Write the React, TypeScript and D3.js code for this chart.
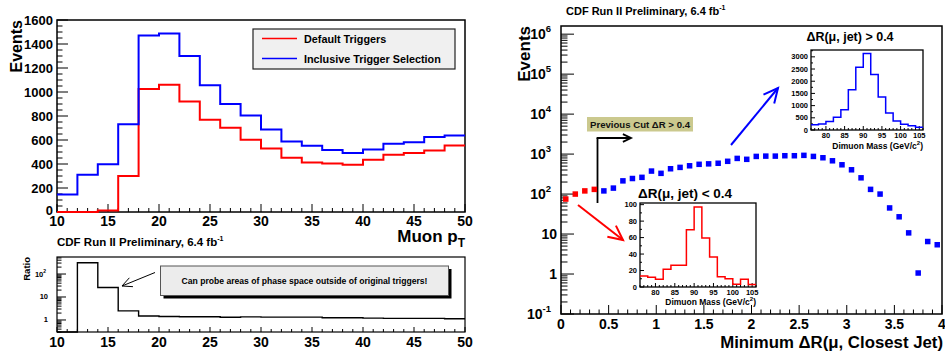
import React from 'react';
import * as d3 from 'd3';

// ---- data ----
// muon pT, 2 GeV bins (low edges)
const ptLowEdges = [10, 12, 14, 16, 18, 20, 22, 24, 26, 28, 30, 32, 34, 36, 38, 40, 42, 44, 46, 48];
const defaultTriggers = [0, 0, 12, 300, 1024, 1060, 921, 768, 702, 602, 530, 452, 413, 405, 394, 435, 477, 491, 513, 555];
const inclusiveTriggers = [145, 310, 397, 732, 1470, 1487, 1301, 1057, 899, 804, 688, 588, 552, 516, 491, 521, 568, 582, 624, 638];
const triggerRatio = [0, 310, 26, 2.5, 1.49, 1.42, 1.39, 1.39, 1.31, 1.36, 1.33, 1.33, 1.33, 1.26, 1.26, 1.2, 1.18, 1.18, 1.18, 1.14];

// minimum dR(mu, closest jet), 0.1 bins (centres)
const drCentres = [
  0.05, 0.15, 0.25, 0.35, 0.45, 0.55, 0.65, 0.75, 0.85, 0.95,
  1.05, 1.15, 1.25, 1.35, 1.45, 1.55, 1.65, 1.75, 1.85, 1.95,
  2.05, 2.15, 2.25, 2.35, 2.45, 2.55, 2.65, 2.75, 2.85, 2.95,
  3.05, 3.15, 3.25, 3.35, 3.45, 3.55, 3.65, 3.75, 3.85, 3.95,
];
const drEvents = [
  75, 100, 120, 131, 120, 141, 214, 245, 262, 376,
  330, 430, 465, 510, 555, 570, 590, 660, 780, 740,
  875, 890, 890, 910, 910, 930, 875, 810, 680, 540,
  405, 255, 131, 100, 45, 27, 10.7, 1.06, 6.5, 5.4,
];
const drCut = 0.4;

// dimuon mass insets, 2 GeV bins (low edges)
const massLowEdges = [76, 78, 80, 82, 84, 86, 88, 90, 92, 94, 96, 98, 100, 102, 104];
const massCloseJet = [13.4, 11.7, 9.3, 21.5, 26.3, 26.3, 69.6, 97, 59.5, 36.4, 12.4, 10, 3.2, 9.3, 3];
const massFarJet = [220, 250, 350, 520, 830, 1650, 2570, 3140, 2280, 1350, 700, 370, 240, 170, 110];

const ptTicks = [10, 15, 20, 25, 30, 35, 40, 45, 50];
const eventTicks = [0, 200, 400, 600, 800, 1000, 1200, 1400, 1600];
const drTicks = [0, 0.5, 1, 1.5, 2, 2.5, 3, 3.5, 4];
const drTickLabels = ['0', '0.5', '1', '1.5', '2', '2.5', '3', '3.5', '4'];
const massTicks = [80, 85, 90, 95, 100, 105];
const closeJetTicks = [0, 20, 40, 60, 80, 100];
const farJetTicks = [0, 500, 1000, 1500, 2000, 2500, 3000];

const FONT = '"Liberation Sans", Arial, Helvetica, sans-serif';
const RED = '#ff0000';
const BLUE = '#0000ff';

type Scale = (v: number) => number;

// histogram outline from bin low edges
function histPath(edges: number[], width: number, values: number[], x: Scale, y: Scale, floor: number) {
  const pts: [number, number][] = [];
  edges.forEach((e, i) => {
    const yy = values[i] > 0 ? y(values[i]) : floor;
    pts.push([x(e), yy]);
    pts.push([x(e + width), yy]);
  });
  return d3.line()(pts) || '';
}

function logMinor(lo: number, hi: number) {
  const out: number[] = [];
  for (let k = Math.floor(Math.log10(lo)); k <= Math.ceil(Math.log10(hi)); k++) {
    for (let m = 1; m < 10; m++) {
      const v = m * Math.pow(10, k);
      if (v >= lo && v <= hi) out.push(v);
    }
  }
  return out;
}

const Arrow = ({ x1, y1, x2, y2, color, w, head }: any) => {
  const a = Math.atan2(y2 - y1, x2 - x1);
  const s = 0.45;
  const b1: [number, number] = [x2 - head * Math.cos(a - s), y2 - head * Math.sin(a - s)];
  const b2: [number, number] = [x2 - head * Math.cos(a + s), y2 - head * Math.sin(a + s)];
  return (
    <g stroke={color} strokeWidth={w} fill="none">
      <line x1={x1} y1={y1} x2={x2} y2={y2} />
      <path d={`M${b1[0]},${b1[1]}L${x2},${y2}L${b2[0]},${b2[1]}`} />
    </g>
  );
};

export default function App() {
  // ---------- left: muon pT ----------
  const xPt = d3.scaleLinear().domain([10, 50]).range([57, 465]);
  const yEv = d3.scaleLinear().domain([0, 1600]).range([212, 20]);
  const yRatio = d3.scaleLog().domain([0.3, 550]).range([332, 257]);

  // ---------- right: dR ----------
  const xDr = d3.scaleLinear().domain([0, 4]).range([561, 942]);
  const yDr = d3.scaleLog().domain([0.1, 1.6e6]).range([314, 26]);

  // ---------- insets ----------
  const xIn1 = d3.scaleLinear().domain([76, 106]).range([640, 756]);
  const yIn1 = d3.scaleLinear().domain([0, 102]).range([287, 203]);
  const xIn2 = d3.scaleLinear().domain([76, 106]).range([811, 923]);
  const yIn2 = d3.scaleLinear().domain([0, 3280]).range([130, 50]);

  const tick = (k: string, x1: number, y1: number, x2: number, y2: number) => (
    <line key={k} x1={x1} y1={y1} x2={x2} y2={y2} stroke="#000" strokeWidth={1} />
  );

  const insetAxes = (xs: any, ys: any, yTicks: number[], yMinorStep: number, fs: number) => {
    const [x0, x1] = xs.range();
    const [yb, yt] = ys.range();
    return (
      <g>
        <rect x={x0} y={yt} width={x1 - x0} height={yb - yt} fill="#fff" stroke="#000" strokeWidth={1.3} />
        {d3.range(76, 107, 1).map((v) => tick('xm' + v, xs(v), yb, xs(v), yb - (v % 5 === 0 ? 4 : 2)))}
        {d3.range(0, ys.domain()[1], yMinorStep).map((v) =>
          tick('ym' + v, x0, ys(v), x0 + (yTicks.includes(v) ? 4 : 2), ys(v)))}
        {massTicks.map((v) => (
          <text key={'xl' + v} x={xs(v)} y={yb + 5} fontSize={fs} textAnchor="middle" dominantBaseline="central">{v}</text>
        ))}
        {yTicks.map((v) => (
          <text key={'yl' + v} x={x0 - 3} y={ys(v)} fontSize={fs} textAnchor="end" dominantBaseline="central">{v}</text>
        ))}
      </g>
    );
  };

  const redPts = drCentres.map((c, i) => ({ c, v: drEvents[i] })).filter((d) => d.c < drCut);
  const bluePts = drCentres.map((c, i) => ({ c, v: drEvents[i] })).filter((d) => d.c > drCut);
  const ms = 5.5;

  return (
    <svg width={945} height={356} style={{ position: 'absolute', left: 0, top: 0, background: '#fff' }}
      fontFamily={FONT} fontWeight="bold">
      <rect width={945} height={356} fill="#fff" />

      {/* ===== left top: Events vs muon pT ===== */}
      <g>
        <rect x={57} y={20} width={408} height={192} fill="none" stroke="#000" strokeWidth={1.5} />
        {d3.range(10, 51, 1).map((v) => tick('px' + v, xPt(v), 212, xPt(v), 212 - (v % 5 === 0 ? 8 : 4)))}
        {d3.range(0, 1601, 50).map((v) => tick('py' + v, 57, yEv(v), 57 + (v % 200 === 0 ? 11 : 5.5), yEv(v)))}
        <path d={histPath(ptLowEdges, 2, defaultTriggers, xPt, yEv, 212)} fill="none" stroke={RED} strokeWidth={2} />
        <path d={histPath(ptLowEdges, 2, inclusiveTriggers, xPt, yEv, 212)} fill="none" stroke={BLUE} strokeWidth={2} />
        {eventTicks.map((v) => (
          <text key={'el' + v} x={53} y={yEv(v) - (v === 0 ? 2 : 0)} fontSize={13} textAnchor="end" dominantBaseline="central">{v}</text>
        ))}
        {ptTicks.map((v) => (
          <text key={'pl' + v} x={xPt(v)} y={221} fontSize={14} textAnchor="middle" dominantBaseline="central">{v}</text>
        ))}
        <text transform="translate(22,20) rotate(-90)" fontSize={16} textAnchor="end">Events</text>
        <text x={465} y={242} fontSize={17} textAnchor="end">Muon p<tspan dy={5} fontSize={12}>T</tspan></text>

        {/* legend */}
        <rect x={253} y={29} width={202} height={40} fill="#f0f0f0" stroke="#222" strokeWidth={1.2} />
        <line x1={262} x2={297} y1={38.5} y2={38.5} stroke={RED} strokeWidth={1.5} />
        <text x={304} y={38.5} fontSize={10.8} dominantBaseline="central">Default Triggers</text>
        <line x1={262} x2={297} y1={58.5} y2={58.5} stroke={BLUE} strokeWidth={1.5} />
        <text x={304} y={58.5} fontSize={10.8} dominantBaseline="central">Inclusive Trigger Selection</text>
      </g>

      {/* ===== left bottom: ratio ===== */}
      <g>
        <text x={57} y={246} fontSize={11.5}>CDF Run II Preliminary, 6.4 fb<tspan dy={-5} fontSize={7}>-1</tspan></text>
        <rect x={57} y={257} width={408} height={75} fill="none" stroke="#000" strokeWidth={1.2} />
        {d3.range(10, 51, 1).map((v) => tick('rx' + v, xPt(v), 332, xPt(v), 332 - (v % 5 === 0 ? 5 : 3)))}
        {logMinor(0.3, 550).map((v) => {
          const major = Math.abs(Math.log10(v) - Math.round(Math.log10(v))) < 1e-9;
          return tick('ry' + v, 57, yRatio(v), 57 + (major ? 9 : 4.5), yRatio(v));
        })}
        <path d={histPath(ptLowEdges, 2, triggerRatio, xPt, yRatio, 332)} fill="none" stroke="#000" strokeWidth={1.4} />
        <text x={48} y={yRatio(1)} fontSize={7.5} textAnchor="end" dominantBaseline="central">1</text>
        <text x={48} y={yRatio(10)} fontSize={7.5} textAnchor="end" dominantBaseline="central">10</text>
        <text x={46} y={yRatio(100)} fontSize={7.5} textAnchor="end" dominantBaseline="central">10<tspan dy={-3} fontSize={5}>2</tspan></text>
        {ptTicks.map((v) => (
          <text key={'rl' + v} x={xPt(v)} y={342} fontSize={14} textAnchor="middle" dominantBaseline="central">{v}</text>
        ))}
        <text transform="translate(30,257) rotate(-90)" fontSize={9.5} textAnchor="end">Ratio</text>

        <rect x={163.5} y={269} width={288} height={29.5} fill="#000" />
        <rect x={160.5} y={266} width={288} height={29.5} fill="#ececec" stroke="#555" strokeWidth={1} />
        <text x={304.5} y={281} fontSize={8.6} textAnchor="middle" dominantBaseline="central">
          Can probe areas of phase space outside of original triggers!
        </text>
        <Arrow x1={155} y1={272.5} x2={122} y2={286} color="#000" w={1} head={11} />
      </g>

      {/* ===== right: min dR ===== */}
      <g>
        <text x={566} y={15} fontSize={11}>CDF Run II Preliminary, 6.4 fb<tspan dy={-5} fontSize={7}>-1</tspan></text>
        <rect x={561} y={26} width={381} height={288} fill="none" stroke="#000" strokeWidth={1.5} />
        {d3.range(0, 40.5, 1).map((i) => tick('dx' + i, xDr(i / 10), 314, xDr(i / 10), 314 - (i % 5 === 0 ? 9 : 4.5)))}
        {logMinor(0.1, 1.6e6).map((v) => {
          const major = Math.abs(Math.log10(v) - Math.round(Math.log10(v))) < 1e-9;
          return tick('dy' + v, 561, yDr(v), 561 + (major ? 13 : 6.5), yDr(v));
        })}
        {drTicks.map((v, i) => (
          <text key={'dl' + v} x={xDr(v)} y={324} fontSize={14} textAnchor="middle" dominantBaseline="central">{drTickLabels[i]}</text>
        ))}
        {[-1, 2, 3, 4, 5, 6].map((k) => (
          <text key={'de' + k} x={551} y={yDr(Math.pow(10, k)) + 5} fontSize={14} textAnchor="end">
            10<tspan dy={-7} fontSize={9.5}>{k}</tspan>
          </text>
        ))}
        <text x={557} y={yDr(10)} fontSize={14} textAnchor="end" dominantBaseline="central">10</text>
        <text x={557} y={yDr(1)} fontSize={14} textAnchor="end" dominantBaseline="central">1</text>
        <text transform="translate(530,26) rotate(-90)" fontSize={17} textAnchor="end">Events</text>
        <text x={943} y={348} fontSize={16.8} textAnchor="end">Minimum ΔR(μ, Closest Jet)</text>

        {/* previous cut marker */}
        <rect x={587} y={117} width={106} height={14.5} fill="#cbc98e" />
        <text x={640} y={124.5} fontSize={9.6} textAnchor="middle" dominantBaseline="central" fill="#111">Previous Cut ΔR &gt; 0.4</text>
        <line x1={597.5} y1={203} x2={597.5} y2={138} stroke="#000" strokeWidth={1.8} />
        <Arrow x1={596.6} y1={138} x2={631} y2={138} color="#000" w={1.8} head={9} />

        <clipPath id="drclip"><rect x={561} y={26} width={381} height={288} /></clipPath>
        <g clipPath="url(#drclip)">
          {redPts.map((d) => (
            <rect key={'r' + d.c} x={xDr(d.c) - ms / 2} y={yDr(d.v) - ms / 2} width={ms} height={ms} fill={RED} />
          ))}
          {bluePts.map((d) => (
            <rect key={'b' + d.c} x={xDr(d.c) - ms / 2} y={yDr(d.v) - ms / 2} width={ms} height={ms} fill={BLUE} />
          ))}
        </g>

        <Arrow x1={578} y1={205} x2={623} y2={240} color={RED} w={2} head={16} />
        <Arrow x1={731} y1={145} x2={778} y2={88} color={BLUE} w={2} head={16} />

        {/* inset: dR < 0.4 */}
        <text x={685} y={193} fontSize={13.5} textAnchor="middle" dominantBaseline="central">ΔR(μ, jet) &lt; 0.4</text>
        {insetAxes(xIn1, yIn1, closeJetTicks, 10, 7.5)}
        <path d={histPath(massLowEdges, 2, massCloseJet, xIn1, yIn1, 287)} fill="none" stroke={RED} strokeWidth={1.5} />
        <text x={756} y={305} fontSize={8.5} textAnchor="end">Dimuon Mass (GeV/c<tspan dy={-4} fontSize={6}>2</tspan><tspan dy={4}>)</tspan></text>

        {/* inset: dR > 0.4 */}
        <text x={850} y={37} fontSize={12.5} textAnchor="middle" dominantBaseline="central">ΔR(μ, jet) &gt; 0.4</text>
        {insetAxes(xIn2, yIn2, farJetTicks, 250, 7.5)}
        <path d={histPath(massLowEdges, 2, massFarJet, xIn2, yIn2, 130)} fill="none" stroke={BLUE} strokeWidth={1.5} />
        <text x={923} y={149} fontSize={8.5} textAnchor="end">Dimuon Mass (GeV/c<tspan dy={-4} fontSize={6}>2</tspan><tspan dy={4}>)</tspan></text>
      </g>
    </svg>
  );
}
